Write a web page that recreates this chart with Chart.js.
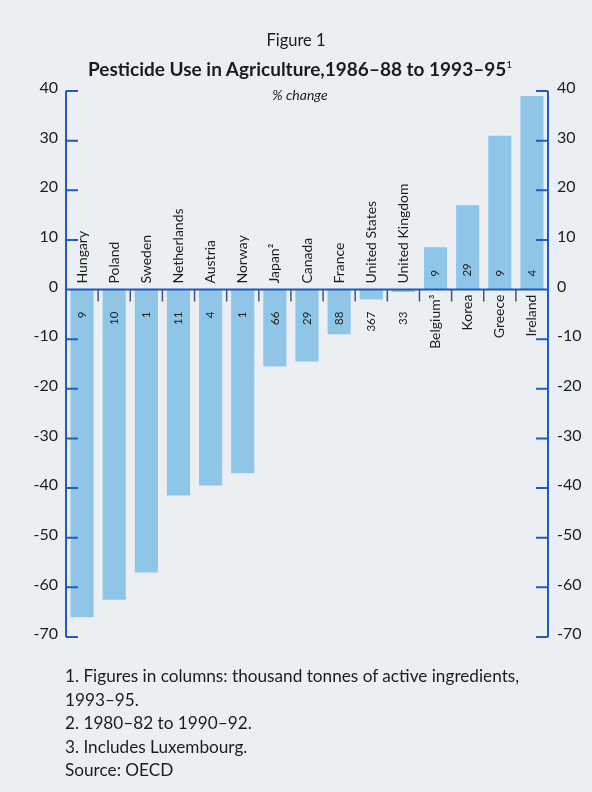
<!DOCTYPE html>
<html>
<head>
<meta charset="utf-8">
<script src="https://cdn.jsdelivr.net/npm/chart.js@4/dist/chart.umd.min.js"></script>
<style>
  body { margin: 0; background: #ebeff4; }
  #wrap { position: relative; width: 592px; height: 792px; font-family: Lato, "Open Sans", sans-serif; color: #1c1c1c; }
  #chart { position: absolute; left: 0; top: 0; }
  .t { position: absolute; left: 0; width: 600px; text-align: center; white-space: nowrap; }
  #fig { top: 30px; font-size: 16.5px; left: -4px; }
  #title { top: 57px; font-size: 19px; font-weight: bold; }
  #title sup { font-size: 10px; font-weight: normal; vertical-align: 8px; }
  #unit { top: 86px; font-size: 14px; font-style: italic; }
  #notes { position: absolute; left: 65px; top: 664px; font-size: 17.2px; line-height: 23.5px; }
</style>
</head>
<body>
<div id="wrap">
  <canvas id="chart" width="592" height="792"></canvas>
  <div class="t" id="fig">Figure 1</div>
  <div class="t" id="title">Pesticide Use in Agriculture,1986–88 to 1993–95<sup>1</sup></div>
  <div class="t" id="unit">% change</div>
  <div id="notes">
    1. Figures in columns: thousand tonnes of active ingredients,<br>
    1993–95.<br>
    2. 1980–82 to 1990–92.<br>
    3. Includes Luxembourg.<br>
    Source: OECD
  </div>
</div>
<script>
const countries = ['Hungary', 'Poland', 'Sweden', 'Netherlands', 'Austria', 'Norway', 'Japan²', 'Canada',
  'France', 'United States', 'United Kingdom', 'Belgium³', 'Korea', 'Greece', 'Ireland'];
// % change, 1986-88 to 1993-95
const pctChange = [-66, -62.5, -57, -41.5, -39.5, -37, -15.5, -14.5, -9, -2, -0.5, 8.5, 17, 31, 39];
// thousand tonnes of active ingredients, 1993-95
const tonnes = [9, 10, 1, 11, 4, 1, 66, 29, 88, 367, 33, 9, 29, 9, 4];
const yTicks = [40, 30, 20, 10, 0, -10, -20, -30, -40, -50, -60, -70];

const AXIS = '#1f5bbd';
const INK = '#1c1c1c';

const frame = {
  id: 'frame',
  afterDatasetsDraw(chart) {
    const ctx = chart.ctx;
    const a = chart.chartArea;
    const x = chart.scales.x;
    const y = chart.scales.y;
    const zero = y.getPixelForValue(0);
    ctx.save();

    // little separators under the zero line
    ctx.strokeStyle = '#4b5568';
    ctx.lineWidth = 1.5;
    for (let i = 1; i < countries.length; i++) {
      const bx = (x.getPixelForValue(i - 1) + x.getPixelForValue(i)) / 2;
      ctx.beginPath();
      ctx.moveTo(bx, zero);
      ctx.lineTo(bx, zero + 12);
      ctx.stroke();
    }

    // zero line and both axes with inward ticks
    ctx.strokeStyle = AXIS;
    ctx.lineWidth = 2;
    ctx.beginPath();
    ctx.moveTo(a.left, zero);
    ctx.lineTo(a.right, zero);
    ctx.moveTo(a.left, a.top);
    ctx.lineTo(a.left, a.bottom);
    ctx.moveTo(a.right, a.top);
    ctx.lineTo(a.right, a.bottom);
    yTicks.forEach(v => {
      const py = y.getPixelForValue(v);
      ctx.moveTo(a.left, py);
      ctx.lineTo(a.left + 12, py);
      ctx.moveTo(a.right, py);
      ctx.lineTo(a.right - 12, py);
    });
    ctx.stroke();

    // country names and tonnage, written sideways
    ctx.fillStyle = INK;
    ctx.textBaseline = 'middle';
    countries.forEach((name, i) => {
      const cx = x.getPixelForValue(i);
      const neg = pctChange[i] <= 0;
      ctx.save();
      ctx.translate(cx, 0);
      ctx.rotate(-Math.PI / 2);
      ctx.font = '14px Lato, "Open Sans", sans-serif';
      if (neg) {
        ctx.textAlign = 'left';
        ctx.fillText(name, -(zero - 6), 0);
      } else {
        ctx.textAlign = 'right';
        ctx.fillText(name, -(zero + 5), 0);
      }
      ctx.font = '11.5px Lato, "Open Sans", sans-serif';
      if (neg) {
        ctx.textAlign = 'right';
        ctx.fillText(String(tonnes[i]), -(zero + 22), 0);
      } else {
        ctx.textAlign = 'left';
        ctx.fillText(String(tonnes[i]), -(zero - 13), 0);
      }
      ctx.restore();
    });
    ctx.restore();
  }
};

const tickFont = { family: 'Lato, "Open Sans", sans-serif', size: 16 };

new Chart(document.getElementById('chart'), {
  type: 'bar',
  data: {
    labels: countries,
    datasets: [{
      data: pctChange,
      backgroundColor: '#8fc6e7',
      borderWidth: 0,
      barPercentage: 0.72,
      categoryPercentage: 1
    }]
  },
  options: {
    responsive: false,
    animation: false,
    events: [],
    layout: { padding: { top: 91, bottom: 155, left: 0, right: 0 } },
    plugins: { legend: { display: false }, tooltip: { enabled: false }, title: { display: false } },
    scales: {
      x: { display: false },
      y: {
        position: 'left',
        min: -70, max: 40,
        ticks: { stepSize: 10, color: INK, font: tickFont, padding: 8, labelOffset: -3 },
        grid: { display: false, drawTicks: false },
        border: { display: false },
        afterFit(scale) { scale.width = 66; }
      },
      y2: {
        position: 'right',
        min: -70, max: 40,
        ticks: { stepSize: 10, color: INK, font: tickFont, padding: 9, labelOffset: -3 },
        grid: { display: false, drawTicks: false },
        border: { display: false },
        afterFit(scale) { scale.width = 44; }
      }
    }
  },
  plugins: [frame]
});
</script>
</body>
</html>
